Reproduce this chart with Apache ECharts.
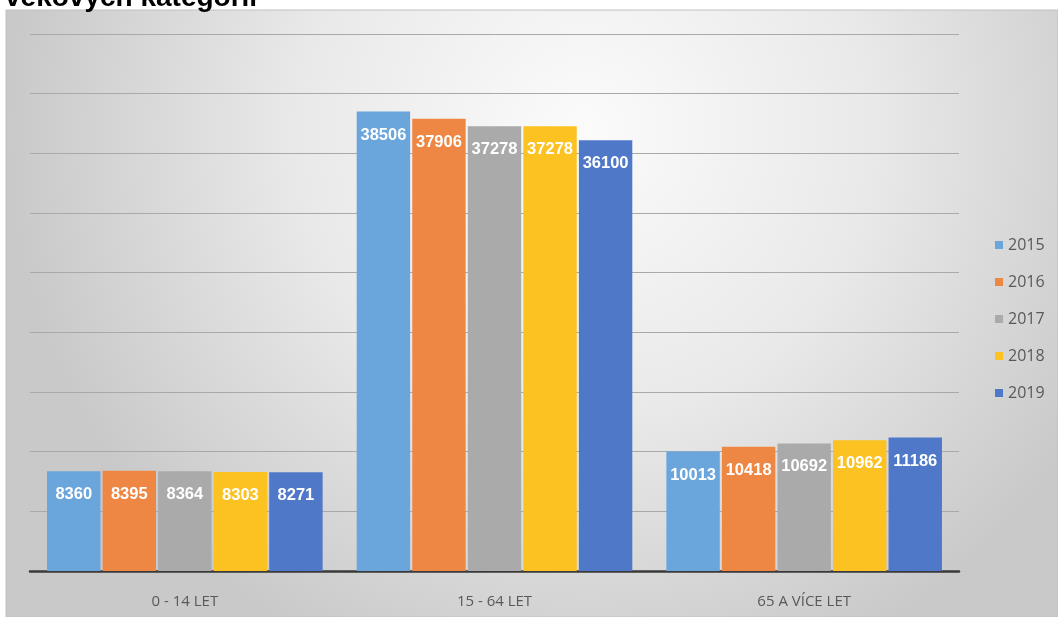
<!DOCTYPE html>
<html><head><meta charset="utf-8">
<script src="https://cdn.jsdelivr.net/npm/echarts@6/dist/echarts.min.js"></script>
<style>html,body{margin:0;padding:0;background:#fff;}#c{width:1058px;height:617px;}</style>
</head><body><div id="c"></div>
<script>
const categories = ['0 - 14 LET', '15 - 64 LET', '65 A VÍCE LET'];
const years = ['2015', '2016', '2017', '2018', '2019'];
const v2015 = [8360, 38506, 10013];
const v2016 = [8395, 37906, 10418];
const v2017 = [8364, 37278, 10692];
const v2018 = [8303, 37278, 10962];
const v2019 = [8271, 36100, 11186];
const values = [v2015, v2016, v2017, v2018, v2019];
const colors = ['#6aa5dc', '#ee8744', '#aaaaaa', '#fcc221', '#4f78c8'];

const chart = echarts.init(document.getElementById('c'));
chart.setOption({
  animation: false,
  title: {
    text: 'věkových kategorií', left: 0, top: -21,
    textStyle: {fontFamily: 'Liberation Sans', fontWeight: 'bold', fontSize: 28, color: '#000'}
  },
  graphic: [{
    type: 'rect', z: -10, silent: true,
    shape: {x: 6, y: 10, width: 1052, height: 607},
    style: {
      fill: new echarts.graphic.RadialGradient(0.55, 0.2, 0.95, [
        {offset: 0, color: '#fbfbfb'},
        {offset: 0.5, color: '#e9e9e9'},
        {offset: 1, color: '#c9c9c9'}
      ]),
      stroke: '#c0c0c0', lineWidth: 1
    }
  }],
  legend: {
    orient: 'vertical', left: 990, top: 232, itemGap: 21,
    itemWidth: 8, itemHeight: 8, icon: 'rect',
    textStyle: {fontFamily: 'Open Sans', fontSize: 16, color: '#595959'},
    data: years
  },
  grid: {left: 30, right: 99, top: 34, bottom: 46},
  xAxis: {
    type: 'category', data: categories,
    axisLine: {lineStyle: {color: '#3a3a3a', width: 2.5}},
    axisTick: {show: false},
    axisLabel: {fontFamily: 'Open Sans', fontSize: 15, color: '#595959', margin: 23}
  },
  yAxis: {
    type: 'value', min: 0, max: 45000, interval: 5000,
    axisLabel: {show: false}, axisLine: {show: false}, axisTick: {show: false},
    splitLine: {lineStyle: {color: '#a9a9a9', width: 1}}
  },
  series: years.map((y, i) => ({
    name: y, type: 'bar', data: values[i],
    barGap: '4%', barCategoryGap: '11%',
    itemStyle: {color: colors[i]},
    label: {
      show: true, position: 'insideTop', distance: 15,
      fontFamily: 'Liberation Sans', fontWeight: 'bold', fontSize: 16.5, color: '#fff'
    }
  }))
});
</script></body></html>
